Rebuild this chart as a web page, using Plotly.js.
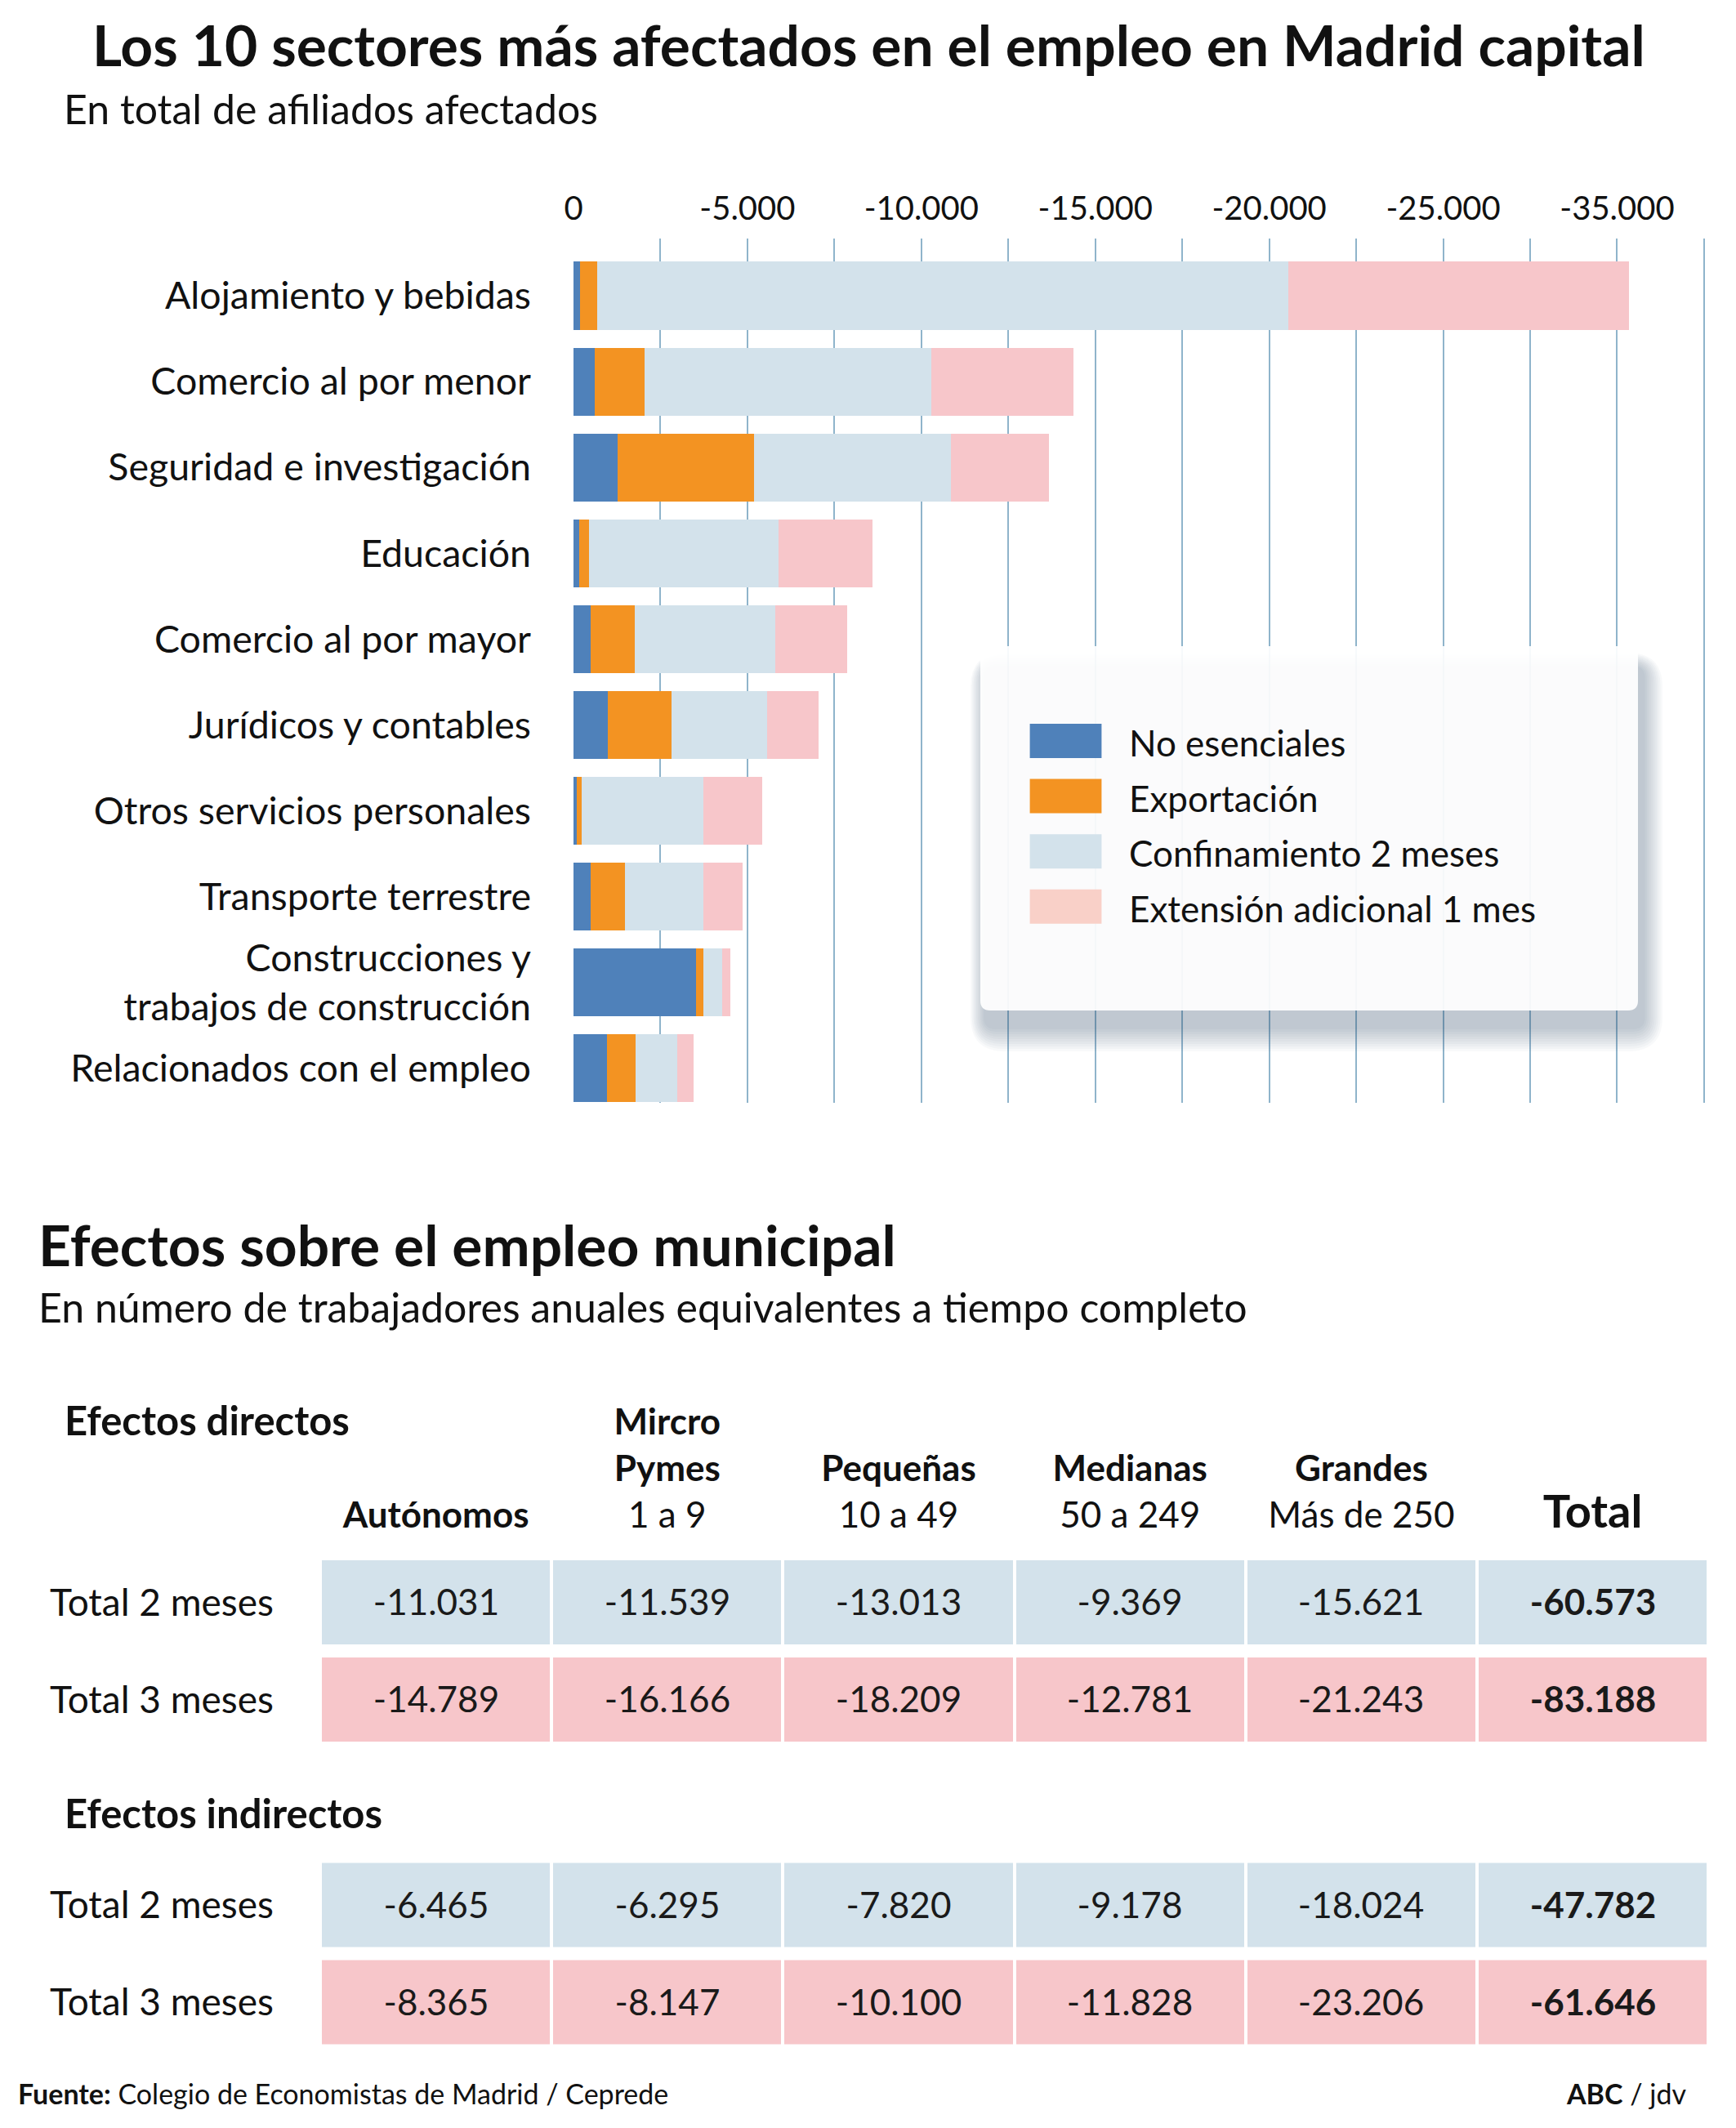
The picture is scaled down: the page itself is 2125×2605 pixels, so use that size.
<!DOCTYPE html>
<html><head><meta charset="utf-8">
<script src="https://cdn.plot.ly/plotly-3.0.1.min.js"></script>
<style>html,body{margin:0;padding:0;background:#fff;} #chart{width:2125px;height:2605px;}</style>
</head><body><div id="chart"></div>
<script>
// ---------- Data: bar chart ----------
const sectores = [
  "Alojamiento y bebidas",
  "Comercio al por menor",
  "Seguridad e investigación",
  "Educación",
  "Comercio al por mayor",
  "Jurídicos y contables",
  "Otros servicios personales",
  "Transporte terrestre",
  "Construcciones y<br>trabajos de construcción",
  "Relacionados con el empleo"
];
const serieNames = ["No esenciales", "Exportación", "Confinamiento 2 meses", "Extensión adicional 1 mes"];
const noEsenciales  = [-180, -600, -1270, -170, -490, -980, -85, -490, -3525, -970];
const exportacion   = [-490, -1440, -3930, -265, -1270, -1835, -145, -980, -215, -805];
const confinamiento = [-19880, -8250, -5645, -5465, -4050, -2760, -3510, -2265, -540, -1200];
const extension     = [-9790, -4075, -2815, -2700, -2060, -1460, -1690, -1115, -240, -480];
const xTickVals = [0, -2500, -5000, -7500, -10000, -12500, -15000, -17500, -20000, -22500, -25000, -27500, -30000, -32500];
const xTickText = ["0", "", "-5.000", "", "-10.000", "", "-15.000", "", "-20.000", "", "-25.000", "", "-35.000", ""];

// ---------- Data: tables ----------
const columnas = ["Autónomos", "Micro Pymes", "Pequeñas", "Medianas", "Grandes", "Total"];
const columnHeaders = [
  "<b>Autónomos</b>",
  "<b>Mircro</b><br><b>Pymes</b><br>1 a 9",
  "<b>Pequeñas</b><br>10 a 49",
  "<b>Medianas</b><br>50 a 249",
  "<b>Grandes</b><br>Más de 250",
  "<span style='font-size:56px'><b>Total</b></span>"
];
const filas = ["Total 2 meses", "Total 3 meses"];
const directos2m   = [-11031, -11539, -13013, -9369, -15621, -60573];
const directos3m   = [-14789, -16166, -18209, -12781, -21243, -83188];
const indirectos2m = [-6465, -6295, -7820, -9178, -18024, -47782];
const indirectos3m = [-8365, -8147, -10100, -11828, -23206, -61646];

// ---------- helpers ----------
const W = 2125, H = 2605;
const px = x => x / W;
const py = y => 1 - y / H;
const FONT = "Lato, 'Open Sans', sans-serif";
function fmt(v) {
  const s = Math.abs(v).toString().replace(/\B(?=(\d{3})+(?!\d))/g, ".");
  return (v < 0 ? "-" : "") + s;
}
function roundRectPath(x0, y0, x1, y1, r) {
  const P = (x, y) => px(x) + "," + py(y);
  return "M" + P(x0 + r, y0) + " L" + P(x1 - r, y0) + " Q" + P(x1, y0) + " " + P(x1, y0 + r) +
    " L" + P(x1, y1 - r) + " Q" + P(x1, y1) + " " + P(x1 - r, y1) +
    " L" + P(x0 + r, y1) + " Q" + P(x0, y1) + " " + P(x0, y1 - r) +
    " L" + P(x0, y0 + r) + " Q" + P(x0, y0) + " " + P(x0 + r, y0) + " Z";
}

const barColors = ["#4F81BA", "#F39322", "#D3E2EB", "#F7C6CA"];
const legendColors = ["#4F81BA", "#F39322", "#D3E2EB", "#F9D0C8"];
const series = [noEsenciales, exportacion, confinamiento, extension];

const traces = series.map((vals, i) => ({
  type: "bar", orientation: "h", y: sectores, x: vals, name: serieNames[i],
  marker: { color: barColors[i], line: { width: 0 } },
  xaxis: "x", yaxis: "y", hoverinfo: "x+name", showlegend: false
}));

// table heatmaps (one trace per block, Total column in bold)
function tableTrace(row2m, row3m, xa, ya) {
  const rows = [row2m, row3m];
  return {
    type: "heatmap", x: columnas, y: filas,
    z: rows.map((r, i) => r.map(() => i)),
    text: rows.map(r => r.map((v, j) => j === columnas.length - 1 ? "<b>" + fmt(v) + "</b>" : fmt(v))),
    texttemplate: "%{text}",
    textfont: { family: FONT, size: 44, color: "#1a1a1a" },
    colorscale: [[0, "#D3E2EB"], [1, "#F7C6CA"]], zmin: 0, zmax: 1, showscale: false,
    xgap: 4, ygap: 16, hoverinfo: "skip", xaxis: xa, yaxis: ya
  };
}
traces.push(tableTrace(directos2m, directos3m, "x2", "y2"));
traces.push(tableTrace(indirectos2m, indirectos3m, "x3", "y3"));

// ---------- legend (manual) ----------
const shapes = [];
const LB = { x0: 1200, y0: 791, x1: 2005, y1: 1237 };
for (let i = 10; i >= 1; i--) {
  const e = i * 3;
  shapes.push({
    type: "path", xref: "paper", yref: "paper", layer: "above",
    path: roundRectPath(LB.x0 + 6 - e * 0.6, LB.y0 + 26 - e * 0.6, LB.x1 + 6 + e * 0.8, LB.y1 + 20 + e, 12 + e),
    fillcolor: "rgba(60,85,110,0.035)", line: { width: 0 }
  });
}
shapes.push({
  type: "path", xref: "paper", yref: "paper", layer: "above",
  path: roundRectPath(LB.x0, LB.y0, LB.x1, LB.y1, 12),
  fillcolor: "rgba(255,255,255,0.93)", line: { width: 0 }
});
const annotations = [];
serieNames.forEach((n, i) => {
  const yc = 907 + i * 67.6;
  shapes.push({
    type: "rect", xref: "paper", yref: "paper", layer: "above",
    x0: px(1260.6), x1: px(1348.4), y0: py(yc - 21), y1: py(yc + 21),
    fillcolor: legendColors[i], line: { width: 0 }
  });
  annotations.push({
    xref: "paper", yref: "paper", x: px(1380), y: py(yc + 2), xanchor: "left", yanchor: "middle",
    text: n, showarrow: false, font: { family: FONT, size: 44, color: "#111" }
  });
});

// ---------- titles / texts ----------
function txt(t, x, y, size, xanchor) {
  annotations.push({
    xref: "paper", yref: "paper", x: px(x), y: py(y), xanchor: xanchor || "left", yanchor: "middle",
    text: t, showarrow: false, font: { family: FONT, size: size, color: "#111" }
  });
}
txt("<b>Los 10 sectores más afectados en el empleo en Madrid capital</b>", 1063, 54, 69.5, "center");
txt("En total de afiliados afectados", 76, 133, 50);
txt("<b>Efectos sobre el empleo municipal</b>", 45, 1523, 69.5);
txt("En número de trabajadores anuales equivalentes a tiempo completo", 45, 1600, 50);
txt("<b>Efectos directos</b>", 77, 1738, 49);
txt("<b>Efectos indirectos</b>", 77, 2219, 49);
txt("<b>Fuente:</b> Colegio de Economistas de Madrid / Ceprede", 20, 2562, 34);
txt("<b>ABC</b> / jdv", 2066, 2562, 34, "right");

const layout = {
  width: W, height: H,
  margin: { l: 0, r: 0, t: 0, b: 0, pad: 0 },
  paper_bgcolor: "#fff", plot_bgcolor: "rgba(0,0,0,0)",
  font: { family: FONT, color: "#111" },
  separators: ",.",
  barmode: "stack", bargap: 0.21,
  showlegend: false,
  xaxis: {
    domain: [px(702), px(2110)], anchor: "y", side: "top",
    range: [0, -33065], tickmode: "array", tickvals: xTickVals, ticktext: xTickText,
    showgrid: true, gridcolor: "#8FB4CB", gridwidth: 2,
    zeroline: true, zerolinecolor: "rgba(0,0,0,0)",
    showline: false, ticks: "", ticklabelstandoff: 14, tickangle: 0,
    tickfont: { family: FONT, size: 40, color: "#111" }, fixedrange: true
  },
  yaxis: {
    domain: [py(1350), py(292)], anchor: "x", type: "category",
    categoryorder: "array", categoryarray: sectores,
    range: [9.4, -0.666], showgrid: false, zeroline: false, showline: false,
    ticks: "", ticklabelstandoff: 51,
    tickfont: { family: FONT, size: 46.5, color: "#111" }, fixedrange: true
  },
  xaxis2: {
    domain: [px(392), px(2091.2)], anchor: "y2", side: "top", type: "category",
    categoryorder: "array", categoryarray: columnas, range: [-0.5, 5.5],
    tickmode: "array", tickvals: columnas, ticktext: columnHeaders, tickangle: 0,
    showgrid: false, zeroline: false, showline: false, ticks: "", ticklabelstandoff: 22,
    tickfont: { family: FONT, size: 44, color: "#111" }, fixedrange: true
  },
  yaxis2: {
    domain: [py(2140), py(1902)], anchor: "x2", type: "category", autorange: "reversed",
    showgrid: false, zeroline: false, showline: false, ticks: "", ticklabelstandoff: 56,
    tickfont: { family: FONT, size: 46, color: "#111" }, fixedrange: true
  },
  xaxis3: {
    domain: [px(392), px(2091.2)], anchor: "y3", type: "category",
    categoryorder: "array", categoryarray: columnas, range: [-0.5, 5.5],
    showticklabels: false, showgrid: false, zeroline: false, showline: false, ticks: "", fixedrange: true
  },
  yaxis3: {
    domain: [py(2510.5), py(2272.5)], anchor: "x3", type: "category", autorange: "reversed",
    showgrid: false, zeroline: false, showline: false, ticks: "", ticklabelstandoff: 56,
    tickfont: { family: FONT, size: 46, color: "#111" }, fixedrange: true
  },
  shapes: shapes,
  annotations: annotations
};

Plotly.newPlot("chart", traces, layout, { displayModeBar: false, staticPlot: true });
</script>
</body></html>
